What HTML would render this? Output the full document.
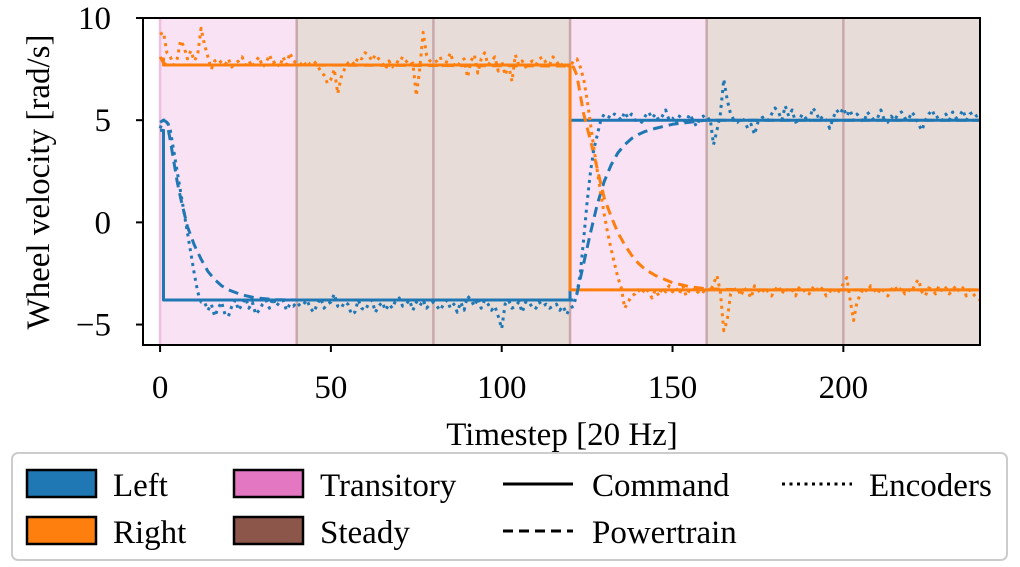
<!DOCTYPE html>
<html><head><meta charset="utf-8">
<style>
body{margin:0;background:#fff;}
svg, svg text{font-family:"Liberation Serif","DejaVu Serif",serif;}
svg{display:block;}
</style></head>
<body>
<svg id="chart" width="1020" height="567" viewBox="0 0 1020 567" font-family="Liberation Serif, serif">
  <g id="regions"></g>
  <g id="series"></g>
  <rect x="143" y="18" width="837" height="327" fill="none" stroke="#000" stroke-width="2"/>
  <g id="xticks"></g>
  <g id="yticks"></g>
  <text x="562" y="445" font-size="33" text-anchor="middle">Timestep [20 Hz]</text>
  <text transform="translate(49,182) rotate(-90)" font-size="33" text-anchor="middle">Wheel velocity [rad/s]</text>
  <g>
    <rect x="12" y="453" width="995" height="107" rx="6" fill="#fff" stroke="#ccc" stroke-width="2"/>
    <g><rect x="27" y="470" width="69" height="27" fill="#1f77b4" stroke="#000" stroke-width="2.5"/><text x="113" y="496" font-size="33">Left</text></g>
    <g><rect x="27" y="517" width="69" height="27" fill="#ff7f0e" stroke="#000" stroke-width="2.5"/><text x="113" y="543" font-size="33">Right</text></g>
    <g><rect x="234" y="470" width="69" height="27" fill="#e377c2" stroke="#000" stroke-width="2.5"/><text x="320" y="496" font-size="33">Transitory</text></g>
    <g><rect x="234" y="517" width="69" height="27" fill="#8c564b" stroke="#000" stroke-width="2.5"/><text x="320" y="543" font-size="33">Steady</text></g>
    <g><line x1="503" y1="484" x2="573" y2="484" stroke="#000" stroke-width="3"/><text x="592" y="496" font-size="33">Command</text></g>
    <g><line x1="503" y1="531" x2="573" y2="531" stroke="#000" stroke-width="3" stroke-dasharray="10 6"/><text x="592" y="543" font-size="33">Powertrain</text></g>
    <g><line x1="782" y1="484" x2="852" y2="484" stroke="#000" stroke-width="3" stroke-dasharray="3 4.5"/><text x="869" y="496" font-size="33">Encoders</text></g>
  </g>
</svg>
<script>
const xTicks=[0,50,100,150,200];
const yTicks=[10,5,0,-5];
const yTickLabels=["10","5","0","\u22125"];
const regionStarts=[0,40,80,120,160,200];
const regionEnds=[40,80,120,160,200,240];
const regionKinds=["transitory","steady","steady","transitory","steady","steady"];
const cmdT=[0,1,120,240];
const cmdLeft=[4.5,-3.8,5.0,5.0];
const cmdRight=[8.0,7.7,-3.3,-3.3];
const ptT=[0,1,2,3,4,5,6,7,8,10,12,14,16,18,20,24,28,34,40,120,121,122,124,126,128,130,132,134,136,138,140,142,145,150,155,160,170,240];
const ptLeft=[4.9,5.0,4.9,4.0,3.0,2.0,1.2,0.5,-0.2,-1.1,-1.8,-2.4,-2.8,-3.1,-3.3,-3.55,-3.7,-3.78,-3.8,-3.8,-3.8,-3.5,-2.0,-0.5,0.9,2.0,2.8,3.4,3.8,4.1,4.3,4.45,4.6,4.8,4.9,5.0,5.0,5.0];
const ptRight=[8.1,7.8,7.7,7.7,7.7,7.7,7.7,7.7,7.7,7.7,7.7,7.7,7.7,7.7,7.7,7.7,7.7,7.7,7.7,7.65,7.6,7.2,5.3,4.0,2.6,1.2,0.3,-0.5,-1.1,-1.6,-2.0,-2.3,-2.6,-2.95,-3.15,-3.25,-3.3,-3.3];
const encLeft=[4.6,5.0,5.0,4.5,3.5,2.5,1.5,0.5,-0.5,-1.5,
-2.5,-3.4,-3.9,-3.9,-4.3,-4.0,-4.6,-4.2,-3.9,-4.5,
-4.6,-4.1,-3.8,-4.3,-4.0,-3.7,-4.2,-3.9,-4.5,-4.3,
-4.0,-3.8,-4.2,-3.7,-4.1,-3.9,-3.8,-4.3,-4.0,-4.1,
-3.9,-4.1,-4.0,-3.8,-4.2,-4.4,-4.0,-3.7,-4.2,-4.0,
-3.9,-3.5,-4.1,-4.2,-3.9,-4.0,-4.5,-4.4,-3.8,-4.2,
-4.3,-4.0,-3.8,-4.4,-4.1,-3.9,-4.3,-4.0,-4.2,-3.8,
-3.7,-4.1,-4.0,-3.8,-4.3,-3.9,-4.1,-3.8,-4.2,-4.0,
-3.9,-4.1,-4.3,-4.0,-3.8,-4.2,-4.0,-4.4,-3.9,-4.3,
-3.6,-3.8,-4.1,-3.7,-4.2,-3.8,-4.0,-4.3,-4.1,-4.6,
-5.2,-4.0,-3.8,-4.2,-4.1,-3.9,-4.4,-3.9,-4.1,-4.0,
-4.2,-3.9,-4.1,-4.0,-4.2,-4.1,-4.0,-4.3,-4.1,-4.5,
-4.2,-4.1,-3.5,-2.5,-0.8,1.0,2.5,3.6,4.3,5.0,
5.3,5.2,5.1,5.3,5.2,5.0,5.4,5.1,5.3,5.0,
5.0,4.9,5.2,5.4,5.1,5.3,5.0,5.2,5.5,5.0,
5.1,4.8,5.2,5.0,4.9,5.3,5.0,4.7,5.1,5.2,
5.0,5.1,3.8,4.5,5.3,7.0,6.0,5.3,5.0,4.9,
5.1,5.0,4.6,4.8,4.3,4.9,5.1,5.2,5.0,5.3,
5.6,5.4,5.0,5.7,5.2,5.5,4.9,5.0,5.3,5.1,
4.9,5.6,5.4,5.0,5.2,5.0,4.6,5.1,5.5,5.3,
5.6,5.2,5.5,5.0,5.3,5.1,4.9,5.4,5.2,5.0,
5.1,5.5,5.0,4.9,5.2,5.0,5.3,5.4,5.1,5.0,
5.4,5.2,4.8,4.5,5.0,5.3,5.5,5.1,5.2,5.0,
5.3,5.0,5.4,5.1,5.2,5.5,5.0,5.3,5.4,5.2,
5.3];
const encRight=[9.2,9.3,8.3,8.1,7.7,8.0,8.9,8.6,8.0,8.4,
7.9,8.2,9.5,8.7,8.1,7.5,7.9,8.0,7.8,7.7,
8.0,7.6,7.8,7.9,8.1,7.7,7.9,7.6,7.9,8.1,
7.6,7.8,8.2,7.8,7.9,7.6,8.1,7.7,8.3,7.9,
7.8,7.7,7.9,7.6,7.8,7.9,7.7,7.4,7.2,6.8,
7.0,7.5,6.3,7.1,7.5,7.8,7.9,7.7,8.1,8.0,
8.3,8.2,7.9,8.2,8.0,7.8,7.5,7.9,7.6,7.9,
7.8,8.1,7.9,7.7,7.8,6.2,7.5,9.3,8.2,7.9,
7.8,7.9,8.1,7.6,7.9,8.3,7.7,7.6,7.9,8.0,
7.1,7.9,8.2,7.3,8.0,8.3,7.7,7.9,8.1,7.4,
7.9,7.2,7.7,6.9,8.2,7.7,7.9,7.6,7.8,7.9,
7.7,8.0,8.1,7.8,7.7,8.1,7.9,7.6,7.8,7.7,
7.6,7.9,8.0,7.6,7.0,6.0,4.8,3.6,2.5,1.4,
0.4,-0.5,-1.3,-2.0,-2.7,-3.2,-4.2,-3.9,-3.6,-3.5,
-3.3,-3.5,-3.2,-3.4,-3.7,-3.3,-3.6,-3.2,-3.4,-3.1,
-3.4,-3.2,-3.5,-3.1,-3.6,-3.3,-3.2,-3.5,-3.3,-3.4,
-3.2,-3.4,-3.0,-2.6,-3.4,-5.3,-4.8,-3.5,-3.3,-3.2,
-3.6,-3.2,-3.4,-3.7,-3.1,-3.3,-3.5,-3.2,-3.4,-3.6,
-3.3,-3.1,-3.5,-3.2,-3.4,-3.3,-3.6,-3.2,-3.4,-3.3,
-3.5,-3.2,-3.4,-3.1,-3.3,-3.6,-3.4,-3.2,-3.5,-3.3,
-3.0,-2.7,-3.8,-4.8,-3.9,-3.5,-3.2,-3.4,-3.1,-3.3,
-3.5,-3.2,-3.4,-3.6,-3.3,-3.1,-3.4,-3.2,-3.5,-3.3,
-3.4,-3.0,-2.8,-3.4,-3.6,-3.2,-3.3,-3.5,-3.1,-3.4,
-3.2,-3.5,-3.3,-3.1,-3.4,-3.2,-3.6,-3.3,-3.5,-3.7,
-3.8];

const NS="http://www.w3.org/2000/svg";
const X0=143,X1=980,Y0=18,Y1=345,XMIN=-5,XMAX=240,YMIN=-6,YMAX=10;
function xs(t){return X0+(t-XMIN)/(XMAX-XMIN)*(X1-X0);}
function ys(v){return Y1-(v-YMIN)/(YMAX-YMIN)*(Y1-Y0);}
function mk(tag,attrs,parent){const e=document.createElementNS(NS,tag);for(const k in attrs)e.setAttribute(k,attrs[k]);parent.appendChild(e);return e;}

const reg=document.getElementById('regions');
regionStarts.forEach((s,i)=>{
  const r=mk('rect',{x:xs(s),y:Y0,width:xs(regionEnds[i])-xs(s),height:Y1-Y0,fill:regionKinds[i]==='transitory'?'#f9e2f3':'#e8dcd9'},reg);
  
  
  const l=mk('line',{x1:xs(s),x2:xs(s),y1:Y0,y2:Y1,stroke:s===0?'#efbfe0':'#c9a8aa','stroke-width':2.5},reg);
  
  
});

const ser=document.getElementById('series');
function poly(ts,vs,color,dash,name,step){
  let pts=[];
  for(let i=0;i<ts.length;i++){
    if(step&&i>0)pts.push(xs(ts[i])+','+ys(vs[i-1]));
    pts.push(xs(ts[i])+','+ys(vs[i]));
  }
  const p=mk('polyline',{points:pts.join(' '),fill:'none',stroke:color,'stroke-width':3,'stroke-linejoin':'round'},ser);
  if(dash)p.setAttribute('stroke-dasharray',dash);
  
  
}
const encT=encLeft.map((_,i)=>i);
poly(cmdT,cmdLeft,'#1f77b4',null,'left-command',true);
poly(cmdT,cmdRight,'#ff7f0e',null,'right-command',true);
poly(ptT,ptLeft,'#1f77b4','10 6','left-powertrain',false);
poly(ptT,ptRight,'#ff7f0e','10 6','right-powertrain',false);
poly(encT,encLeft,'#1f77b4','3 4.5','left-encoders',false);
poly(encT,encRight,'#ff7f0e','3 4.5','right-encoders',false);

const xt=document.getElementById('xticks');
xTicks.forEach(t=>{
  const l=mk('line',{x1:xs(t),x2:xs(t),y1:Y1,y2:Y1+7,stroke:'#000','stroke-width':2},xt);
  
  
  const tx=mk('text',{x:xs(t),y:398,'font-size':33,'text-anchor':'middle'},xt);
  tx.textContent=t;
  
  
});
const yt=document.getElementById('yticks');
yTicks.forEach((v,i)=>{
  const l=mk('line',{x1:X0-7,x2:X0,y1:ys(v),y2:ys(v),stroke:'#000','stroke-width':2},yt);
  
  
  const tx=mk('text',{x:X0-32,y:ys(v)+11,'font-size':33,'text-anchor':'end'},yt);
  tx.textContent=yTickLabels[i];
  
  
});
</script>
</body></html>
